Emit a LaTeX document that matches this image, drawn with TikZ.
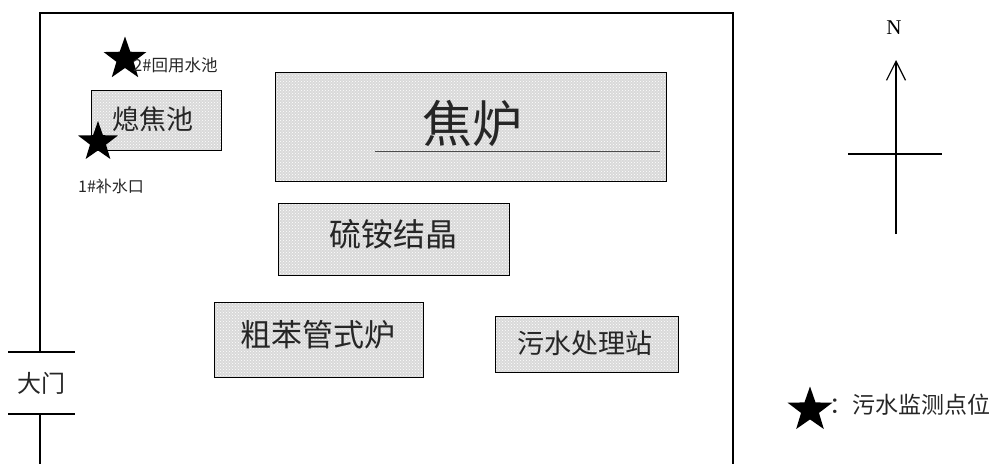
\documentclass[tikz,border=0pt]{standalone}
\usepackage{fontspec}
\setmainfont{Liberation Serif}
\newfontfamily\cjk{Noto Sans CJK SC}
\usetikzlibrary{shapes.geometric,patterns,arrows.meta}
\tikzset{
  plantbox/.style={line width=1.4pt,fill=black!15,inner sep=0pt,anchor=north west,
    postaction={pattern=crosshatch dots,pattern color=white},
    postaction={draw=black}},
  wall/.style={draw=black,line width=1.2pt},
  mark star/.style={star,star points=5,star point ratio=2.5,fill=black,draw=none,inner sep=0pt,minimum size=#1},
  cap text/.style={font=\cjk,text=black!85,inner sep=0pt}
}
\newcommand{\fs}[1]{\fontsize{#1}{#1}\selectfont}
\begin{document}
\begin{tikzpicture}[x=1pt,y=-1pt]
\useasboundingbox (0,0) rectangle (997,464);
% site boundary
\coordinate (wallA) at (40,352);
\coordinate (wallB) at (40,13);
\coordinate (wallC) at (733,13);
\coordinate (wallD) at (733,464);
\coordinate (wallE) at (40,414);
\coordinate (wallF) at (40,464);
\draw[wall] (wallA) -- (wallB) -- (wallC) -- (wallD);
\draw[wall] (wallE) -- (wallF);
% gate
\coordinate (gateA1) at (8,352);
\coordinate (gateA2) at (75,352);
\coordinate (gateB1) at (8,414);
\coordinate (gateB2) at (75,414);
\draw[wall] (gateA1) -- (gateA2);
\draw[wall] (gateB1) -- (gateB2);
\node[cap text] (gate) at (41,383) {\fs{24}大门};
% buildings
\node[plantbox,minimum width=391pt,minimum height=109pt] (oven) at (275,72) {};
\coordinate (ovenlineA) at (375,151);
\coordinate (ovenlineB) at (660,151);
\draw[black!70,line width=0.6pt] (ovenlineA) -- (ovenlineB);
\node[cap text] (ovenlabel) at (472,123) {\fs{50}焦炉};
\node[plantbox,minimum width=130pt,minimum height=60pt] (quench) at (91,90) {};
\node[cap text] (quenchlabel) at (153,119) {\fs{27}熄焦池};
\node[plantbox,minimum width=231pt,minimum height=72pt] (ammonium) at (278,203) {};
\node[cap text] (ammoniumlabel) at (393,234) {\fs{32}硫铵结晶};
\node[plantbox,minimum width=209pt,minimum height=75pt] (benzene) at (214,302) {};
\node[cap text] (benzenelabel) at (318,335) {\fs{31}粗苯管式炉};
\node[plantbox,minimum width=183pt,minimum height=56pt] (sewage) at (495,316) {};
\node[cap text] (sewagelabel) at (585,343) {\fs{27}污水处理站};
% monitoring points
\node[mark star=45pt] (star2) at (125,59) {};
\node[cap text,anchor=west] (label2) at (133,65) {\fs{16.5}2\#回用水池};
\node[mark star=42pt] (star1) at (98,142) {};
\node[cap text,anchor=west] (label1) at (78,186) {\fs{16}1\#补水口};
% compass
\node[font=\fs{21},inner sep=0pt] (north) at (894,28) {N};
\coordinate (compassS) at (896,234);
\coordinate (compassN) at (896,60);
\coordinate (compassW) at (848,154);
\coordinate (compassE) at (942,154);
\draw[line width=1.2pt,-{Straight Barb[length=19pt,width=19pt,line width=1.2pt]}] (compassS) -- (compassN);
\draw[line width=1.2pt] (compassW) -- (compassE);
% legend
\node[mark star=47pt] (legendstar) at (810,410) {};
\node[cap text,anchor=west] (legend) at (829,405) {\fs{23}：污水监测点位};
\end{tikzpicture}
\end{document}
